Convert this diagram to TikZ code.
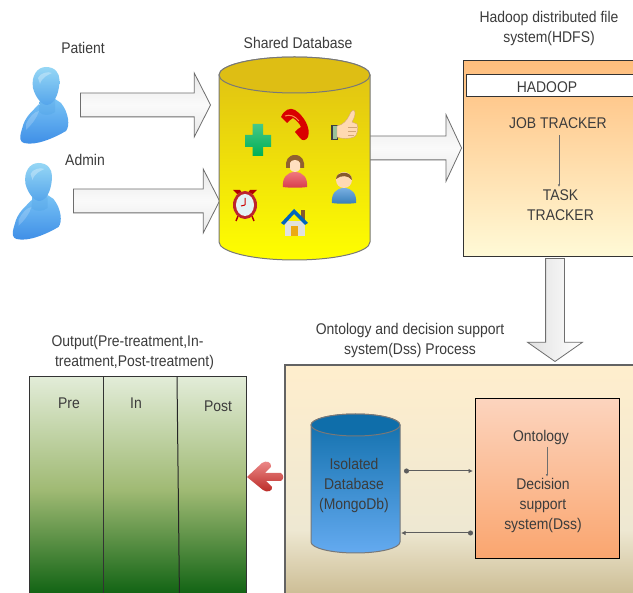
\documentclass[tikz,border=0pt]{standalone}
\usepackage{fontspec}
\setmainfont[FakeStretch=0.9]{Liberation Sans}
\usetikzlibrary{shapes.geometric,shapes.arrows,arrows.meta}
\definecolor{txt}{RGB}{60,60,60}
\definecolor{edge}{RGB}{110,110,110}
\definecolor{dbedge}{RGB}{120,120,120}
\definecolor{dssA}{RGB}{255,238,205}
\definecolor{dssB}{RGB}{238,232,210}
\definecolor{dssC}{RGB}{205,190,150}
\pgfdeclareverticalshading{dssback}{100bp}{color(0bp)=(dssC); color(26.5bp)=(dssC); color(40bp)=(dssB); color(75bp)=(dssA); color(100bp)=(dssA)}
\definecolor{outA}{RGB}{226,236,216}
\definecolor{outB}{RGB}{160,186,116}
\definecolor{outC}{RGB}{18,100,20}
\pgfdeclareverticalshading{outback}{100bp}{color(0bp)=(outC); color(27bp)=(outC); color(50bp)=(outB); color(75bp)=(outA); color(100bp)=(outA)}
\definecolor{goldtop}{RGB}{222,190,20}
\definecolor{isotop}{RGB}{15,110,170}
\definecolor{isobot}{RGB}{100,170,240}
\definecolor{clockred}{RGB}{190,35,45}
\definecolor{clockface}{RGB}{228,242,246}
\definecolor{wall}{RGB}{225,225,220}
\definecolor{door}{RGB}{235,170,20}
\definecolor{roof}{RGB}{0,100,190}
\definecolor{bodytop}{RGB}{120,195,245}
\definecolor{bodybot}{RGB}{60,140,230}
\definecolor{necktop}{RGB}{110,185,240}
\definecolor{neckbot}{RGB}{90,170,235}
\definecolor{headtop}{RGB}{150,215,245}
\definecolor{headbot}{RGB}{85,165,235}
\definecolor{plustop}{RGB}{70,200,135}
\definecolor{plusbot}{RGB}{0,175,85}
\definecolor{womantop}{RGB}{240,120,125}
\definecolor{womanbot}{RGB}{215,60,75}
\definecolor{mantop}{RGB}{120,175,225}
\definecolor{manbot}{RGB}{55,125,185}
\definecolor{hdfstop}{RGB}{255,190,125}
\definecolor{hdfsbot}{RGB}{255,250,215}
\definecolor{boxtop}{RGB}{252,212,190}
\definecolor{boxbot}{RGB}{250,165,110}
\definecolor{redtop}{RGB}{238,140,140}
\definecolor{redbot}{RGB}{185,40,35}
\tikzset{
  txtlabel/.style={font=\fontsize{15.5}{20}\selectfont, text=txt, align=center, inner sep=0pt},
  blockarrow/.style={single arrow, draw=edge, line width=0.8pt, inner sep=11.5pt, single arrow head indent=0pt},
  flatbox/.style={draw=black!80, line width=1pt, inner sep=0pt, outer sep=0pt},
  thinlink/.style={draw=edge, line width=0.8pt},
  dblink/.style={draw=edge!85!black, line width=1pt},
  pics/bluefig/.style={code={
    \shade[top color=bodytop, bottom color=bodybot]
      (-7,18) .. controls (-14,26) and (-21,30) .. (-24,43)
      .. controls (-27,52) and (-26,56) .. (-22,57)
      .. controls (-10,60) and (8,52) .. (20,45)
      .. controls (24,40) and (23,27) .. (15,17) -- (9,13) -- (8,24) -- (-5,24) -- cycle;
    \shade[top color=necktop, bottom color=neckbot]
      (-6,12) -- (9,12) -- (9,26) .. controls (4,30) and (-3,30) .. (-7,26) -- cycle;
    \shade[top color=headtop, bottom color=headbot]
      (0,-19) .. controls (9,-19) and (13.5,-13) .. (13.5,-6)
      .. controls (13.5,4) and (10,18) .. (1,19)
      .. controls (-5,19) and (-11,10) .. (-13,2)
      .. controls (-15,-10) and (-9,-19) .. (0,-19) -- cycle;
    \fill[white,opacity=.3] (-8,-8) .. controls (-6,-13) and (2,-15) .. (6,-13) .. controls (2,-11) and (-4,-9) .. (-6,-2) -- cycle;
    \fill[white,opacity=.2] (-20,38) .. controls (-16,30) and (-12,26) .. (-7,25) .. controls (-9,32) and (-14,38) .. (-20,44) -- cycle;
  }}
}
\begin{document}
\begin{tikzpicture}[x=1pt,y=-1pt]
\clip (0,0) rectangle (633,593);
\fill[white] (0,0) rectangle (633,593);

% people
\pic at (46,86) {bluefig};
\pic at (38.5,182) {bluefig};
\node[txtlabel] (patient) at (83,47.5) {Patient};
\node[txtlabel] (admin) at (85,159.5) {Admin};

% block arrows
\node[blockarrow, top color=black!9, bottom color=black!9, middle color=black!2, minimum height=130pt, minimum width=63pt, single arrow head extend=20pt, single arrow tip angle=126, anchor=tip] (arrowp) at (211,105) {};
\node[blockarrow, top color=black!9, bottom color=black!9, middle color=black!2, minimum height=146pt, minimum width=63pt, single arrow head extend=20pt, single arrow tip angle=126, anchor=tip] (arrowa) at (220,201) {};
\node[blockarrow, top color=black!9, bottom color=black!9, middle color=black!2, minimum height=92pt, minimum width=66pt, single arrow head extend=21.5pt, single arrow tip angle=130, anchor=tip] (arrowh) at (462,148) {};
\node[blockarrow, left color=black!12, right color=white, shape border rotate=270, inner sep=9pt, minimum height=103pt, minimum width=54pt, single arrow head extend=18pt, single arrow tip angle=110, anchor=tip] (arrowd) at (555,362) {};

% shared database
\path[draw=dbedge, line width=1pt, bottom color=yellow, top color=goldtop]
  (219,75) -- (219,242) arc[start angle=180,end angle=0,x radius=75.5,y radius=18] -- (370,75) arc[start angle=0,end angle=-180,x radius=75.5,y radius=18] -- cycle;
\path[draw=dbedge, line width=1pt, fill=goldtop] (294.5,75) ellipse[x radius=75.5,y radius=18];
\node[txtlabel] (shared) at (298,42.5) {Shared Database};

% plus
\shade[top color=plustop, bottom color=plusbot]
  (252.5,124) -- (263,124) -- (263,135) -- (271,135) -- (271,147) -- (263,147) -- (263,156) -- (252.5,156) -- (252.5,147) -- (245,147) -- (245,135) -- (252.5,135) -- cycle;
% phone
\fill[red!85!black] (281,117) .. controls (284,110) and (290,107) .. (295,110)
  .. controls (304,116) and (311,128) .. (308,137) .. controls (306,141) and (302,141) .. (300,138)
  -- (295,132) .. controls (296,129) and (299,129) .. (301,127) .. controls (300,124) and (296,120) .. (293,118)
  .. controls (290,119) and (289,122) .. (287,123) -- cycle;
\draw[red!30!orange!70!white, line width=1pt] (285,116) .. controls (290,114) and (295,116) .. (299,121);
% thumb
\fill[black!75] (331,125) rectangle (338,140);
\fill[green!40!black!40!white] (333,126) rectangle (337,139);
\fill[orange!30!white, draw=brown!70, line width=.4pt] (337,126) .. controls (343,125) and (347,120) .. (349,116) .. controls (351,110) and (355,108) .. (355,113)
  .. controls (355,117) and (353,120) .. (352,122) -- (357,124) .. controls (359,128) and (357,136) .. (354,137) .. controls (349,139) and (342,139) .. (337,137) -- cycle;
\draw[brown!70, line width=.4pt] (348,127) -- (357,127) (348,131) -- (356,131) (348,135) -- (354,135);
% woman
\shade[top color=womantop, bottom color=womanbot] (283,187) .. controls (282,178) and (287,172) .. (295,172) .. controls (303,172) and (308,178) .. (307,187) .. controls (300,188) and (290,188) .. (283,187) -- cycle;
\fill[brown!75!black] (295,155) .. controls (288,155) and (285,161) .. (286,168) -- (304,168) .. controls (305,161) and (302,155) .. (295,155) -- cycle;
\fill[orange!25!white] (290,163) .. controls (291,159) and (299,159) .. (300,163) -- (300,169) .. controls (298,173) and (292,173) .. (290,169) -- cycle;
% man
\shade[top color=mantop, bottom color=manbot] (332,203) .. controls (331,194) and (336,188) .. (344,188) .. controls (352,188) and (357,194) .. (356,203) .. controls (349,204) and (339,204) .. (332,203) -- cycle;
\fill[orange!30!white] (344,180) circle[radius=8];
\fill[brown!70!black] (336,179) .. controls (336,171) and (352,170) .. (352,180) .. controls (348,175) and (341,175) .. (336,179) -- cycle;
% clock
\fill[red!70!black] (237,194) -- (233,190) -- (240,190) -- (242,193) -- cycle (253,194) -- (257,190) -- (250,190) -- (248,193) -- cycle;
\draw[red!70!black, line width=1.4pt] (238,216) -- (236,221) (252,216) -- (254,221);
\fill[clockred] (245,205) ellipse[x radius=12,y radius=14];
\fill[clockface] (245,205) ellipse[x radius=9,y radius=11];
\draw[red!80!black, line width=1pt] (245,205) -- (245,198) (245,205) -- (241,206);
% house
\fill[wall] (285,221) rectangle (305,236);
\fill[door] (291,226) rectangle (298,236);
\fill[brown!70!black] (301,210) rectangle (305,220);
\fill[roof] (294,209) -- (308,223) -- (305,225) -- (294,214) -- (284,225) -- (281,223) -- cycle;

% HDFS box
\node[flatbox, minimum width=190pt, minimum height=196pt, top color=hdfstop, bottom color=hdfsbot, anchor=north west] (hdfs) at (463,61) {};
\node[flatbox, fill=white, minimum width=190pt, minimum height=22pt, anchor=north west] (hadoopbar) at (466,75) {};
\node[txtlabel] (hdfstitle) at (549,28.5) {Hadoop distributed file\\system(HDFS)};
\node[txtlabel] (hadoop) at (547,87.5) {HADOOP};
\node[txtlabel] (job) at (558,123.5) {JOB TRACKER};
\node[txtlabel] (task) at (560.5,205.5) {TASK\\TRACKER};
\draw[thinlink, -{Latex[length=2.5pt,width=2.5pt]}, shorten <=6pt, shorten >=3pt] (job.south -| 559,0) -- (task.north -| 559,0);

% DSS outer box
\node[flatbox, draw=edge!90!black, line width=1.2pt, minimum width=400pt, minimum height=235pt, shading=dssback, anchor=north west] (dss) at (285,365) {};
\node[txtlabel] (dsstitle) at (410,340) {Ontology and decision support\\system(Dss) Process};

% isolated database
\path[draw=dbedge, line width=1pt, bottom color=isobot, top color=isotop]
  (311,425) -- (311,542) arc[start angle=180,end angle=0,x radius=44.5,y radius=11] -- (400,425) arc[start angle=0,end angle=-180,x radius=44.5,y radius=11] -- cycle;
\path[draw=dbedge, line width=1pt, fill=isotop] (355.5,425) ellipse[x radius=44.5,y radius=11];
\node[txtlabel] (isolated) at (354,485) {Isolated\\Database\\(MongoDb)};
\coordinate (dbout) at (404,471);
\coordinate (dbin) at (401,533);

% DSS inner box
\node[flatbox, draw=black, minimum width=144pt, minimum height=160pt, top color=boxtop, bottom color=boxbot, anchor=north west] (dssbox) at (475,399) {};
\node[txtlabel] (onto) at (541,437.5) {Ontology};
\node[txtlabel] (decision) at (543,505) {Decision\\support\\system(Dss)};
\draw[thinlink, -{Latex[length=2.5pt,width=2.5pt]}, shorten <=2pt, shorten >=1pt] (onto.south -| 547,0) -- (decision.north -| 547,0);
\coordinate (dssin) at (473,471);
\coordinate (dssout) at (473,533);
\draw[dblink, {Circle[length=5pt,width=5pt]}-{Latex[length=4.5pt,width=4.5pt]}] (dbout) -- (dssin);
\draw[dblink, {Circle[length=5pt,width=5pt]}-{Latex[length=4.5pt,width=4.5pt]}] (dssout) -- (dbin);

% output box
\node[flatbox, minimum width=217pt, minimum height=225pt, shading=outback, anchor=north west] (output) at (29,377) {};
\coordinate (d1t) at (103,377); \coordinate (d1b) at (103,600);
\coordinate (d2t) at (177,377); \coordinate (d2b) at (179.5,600);
\draw[black!80, line width=1pt] (d1t) -- (d1b);
\draw[black!85, line width=1pt] (d2t) -- (d2b);
\node[txtlabel] (outtitlea) at (127.5,342.5) {Output(Pre-treatment,In-};
\node[txtlabel] (outtitleb) at (134.5,362.5) {treatment,Post-treatment)};
\node[txtlabel] (pre) at (69,403.5) {Pre};
\node[txtlabel] (in) at (136,403.5) {In};
\node[txtlabel] (post) at (218,406.5) {Post};

% red arrow
\shade[top color=redtop, bottom color=redbot]
  (247,477) -- (262,463) .. controls (266,460) and (272,462) .. (271,467) -- (265,473) -- (281,473) .. controls (284,475) and (284,479) .. (281,481)
  -- (266,481) -- (272,487) .. controls (273,491) and (267,493) .. (263,490) -- cycle;
\end{tikzpicture}
\end{document}
